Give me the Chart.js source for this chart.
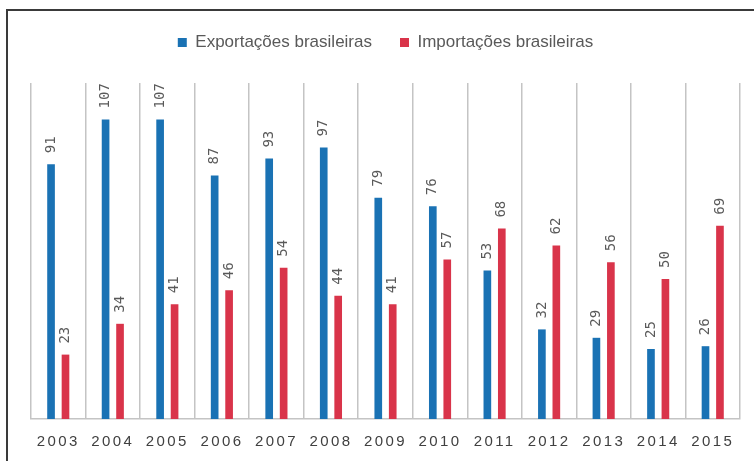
<!DOCTYPE html>
<html>
<head>
<meta charset="utf-8">
<script src="https://cdn.jsdelivr.net/npm/chart.js@4/dist/chart.umd.min.js"></script>
<style>
  body { margin: 0; background: #fff; }
  #wrap { position: relative; width: 754px; height: 461px; overflow: hidden; }
  #frame { position: absolute; left: 6px; top: 9px; width: 800px; height: 500px;
           border-left: 2px solid #3a3a3a; border-top: 2px solid #3a3a3a; }
  canvas { position: absolute; left: 0; top: 0; }
</style>
</head>
<body>
<div id="wrap">
  <div id="frame"></div>
  <canvas id="graphCanvas" width="754" height="461"></canvas>
</div>
<script>
var anos = ['2003', '2004', '2005', '2006', '2007', '2008', '2009', '2010', '2011', '2012', '2013', '2014', '2015'];
var exportacoes = [91, 107, 107, 87, 93, 97, 79, 76, 53, 32, 29, 25, 26];
var importacoes = [23, 34, 41, 46, 54, 44, 41, 57, 68, 62, 56, 50, 69];

// rotated value labels above each bar
var rotuloBarras = {
    id: 'rotuloBarras',
    afterDatasetsDraw: function(chart) {
        var ctx = chart.ctx;
        ctx.save();
        ctx.font = '14px "DejaVu Sans Mono"';
        ctx.fillStyle = '#595959';
        ctx.textAlign = 'left';
        ctx.textBaseline = 'middle';
        chart.data.datasets.forEach(function(ds, i) {
            chart.getDatasetMeta(i).data.forEach(function(bar, j) {
                ctx.save();
                ctx.translate(bar.x, bar.y - 11);
                ctx.rotate(-Math.PI / 2);
                ctx.fillText(String(ds.data[j]), 0, 0);
                ctx.restore();
            });
        });
        ctx.restore();
        // x labels (drawn after datasets) get spaced digits
        ctx.letterSpacing = '2.4px';
    },
    afterDraw: function(chart) {
        chart.ctx.letterSpacing = '0px';
    },
    beforeUpdate: function(chart) {
        // leave some room between legend and the plot
        if (chart.legend && !chart.legend._ajustado) {
            var fitOrig = chart.legend.fit;
            chart.legend.fit = function() {
                fitOrig.call(this);
                this.height += 22;
            };
            chart.legend._ajustado = true;
        }
    }
};

var chartdata = {
    labels: anos,
    datasets: [{
        label: 'Exportações brasileiras',
        backgroundColor: '#1a72b4',
        data: exportacoes
    }, {
        label: 'Importações brasileiras',
        backgroundColor: '#d9344a',
        data: importacoes
    }]
};

var graphTarget = document.getElementById('graphCanvas');

var barGraph = new Chart(graphTarget, {
    type: 'bar',
    data: chartdata,
    plugins: [rotuloBarras],
    options: {
        responsive: false,
        animation: false,
        layout: { padding: { top: 6, left: 31, right: 14, bottom: -4 } },
        datasets: {
            bar: { categoryPercentage: 0.53, barPercentage: 0.53 }
        },
        plugins: {
            tooltip: { enabled: false },
            legend: {
                position: 'top',
                labels: {
                    boxWidth: 9,
                    boxHeight: 9,
                    padding: 28,
                    color: '#595959',
                    font: { family: '"Liberation Sans"', size: 17 }
                }
            }
        },
        scales: {
            x: {
                offset: true,
                grid: { offset: true, color: '#c4c4c4', lineWidth: 1.5, drawTicks: false },
                border: { color: '#c4c4c4', width: 1.5 },
                ticks: {
                    z: 1,
                    padding: 14,
                    color: '#404040',
                    maxRotation: 0,
                    font: { family: '"Liberation Sans"', size: 15 }
                }
            },
            y: {
                display: false,
                min: 0,
                max: 120
            }
        }
    }
});
</script>
</body>
</html>
